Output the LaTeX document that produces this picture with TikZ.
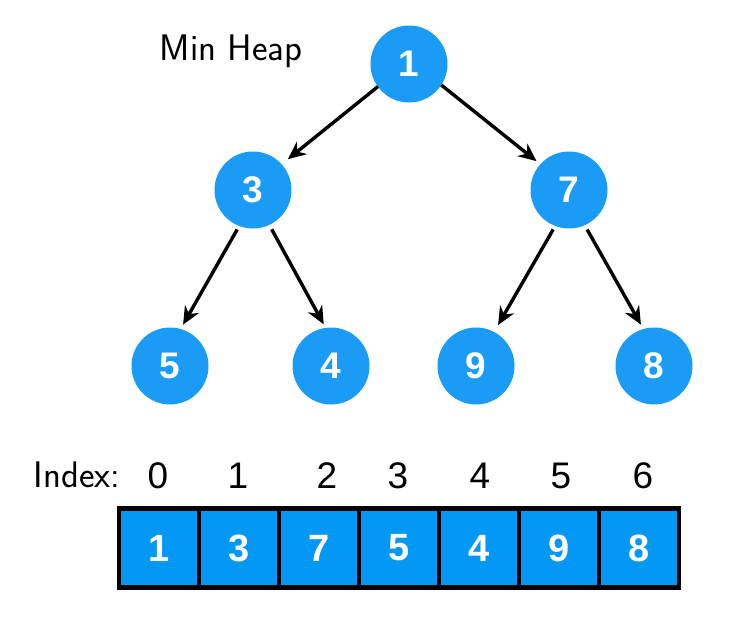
\documentclass[tikz,border=0pt]{standalone}
\usepackage{fontspec}
\setmainfont{Liberation Sans}
\usetikzlibrary{arrows.meta}
\definecolor{heapblue}{RGB}{26,155,245}
\definecolor{cellblue}{RGB}{4,152,245}
\tikzset{
  heapnode/.style={circle, fill=heapblue, minimum size=77pt, inner sep=0pt, outer sep=0pt,
    text=white, font=\fontsize{37}{37}\selectfont\bfseries},
  cellbox/.style={rectangle, fill=cellblue, draw=black, line width=4.5pt, minimum width=80pt,
    minimum height=79pt, inner sep=0pt, outer sep=0pt, text=white,
    font=\fontsize{38}{38}\selectfont\bfseries},
  idxlabel/.style={inner sep=0pt, font=\fontsize{37}{37}\selectfont},
  hand/.style={inner sep=0pt, font=\fontsize{37}{37}\selectfont\sffamily},
  edge/.style={line width=3.4pt, -{Stealth[length=18pt,width=16pt]}},
}
\begin{document}
\begin{tikzpicture}[x=1pt, y=-1pt]
\useasboundingbox (0,0) rectangle (737,624);
% heap nodes
\node[heapnode] (n1) at (409,64) {1};
\node[heapnode] (n3) at (253,190) {3};
\node[heapnode] (n7) at (569,190) {7};
\node[heapnode] (n5) at (170,366) {5};
\node[heapnode] (n4) at (331,366) {4};
\node[heapnode] (n9) at (476,366) {9};
\node[heapnode] (n8) at (654,366) {8};
% edges
\draw[edge, shorten >=8pt] (n1.216) -- (n3.42);
\draw[edge, shorten >=5pt] (n1.327) -- (n7.138);
\draw[edge, shorten <=4pt, shorten >=5pt] (n3.249) -- (n5.74);
\draw[edge, shorten <=5pt, shorten >=4pt] (n3.295) -- (n4.98);
\draw[edge, shorten <=4pt, shorten >=8pt] (n7.249) -- (n9.62);
\draw[edge, shorten <=5pt, shorten >=5pt] (n7.294) -- (n8.106);
% title
\node[hand] (title) at (231,51) {Min Heap};
% array
\node[cellbox] (c0) at (159,548) {1};
\node[cellbox] (c1) at (239,548) {3};
\node[cellbox] (c2) at (319,548) {7};
\node[cellbox] (c3) at (399,548) {5};
\node[cellbox] (c4) at (479,548) {4};
\node[cellbox] (c5) at (559,548) {9};
\node[cellbox] (c6) at (639,548) {8};
% index labels
\node[hand] (idx) at (77,475) {Index:};
\node[idxlabel] (i0) at (158,476) {0};
\node[idxlabel] (i1) at (238,476) {1};
\node[idxlabel] (i2) at (327,476) {2};
\node[idxlabel] (i3) at (398,476) {3};
\node[idxlabel] (i4) at (480,476) {4};
\node[idxlabel] (i5) at (561,476) {5};
\node[idxlabel] (i6) at (643,476) {6};
\end{tikzpicture}
\end{document}
